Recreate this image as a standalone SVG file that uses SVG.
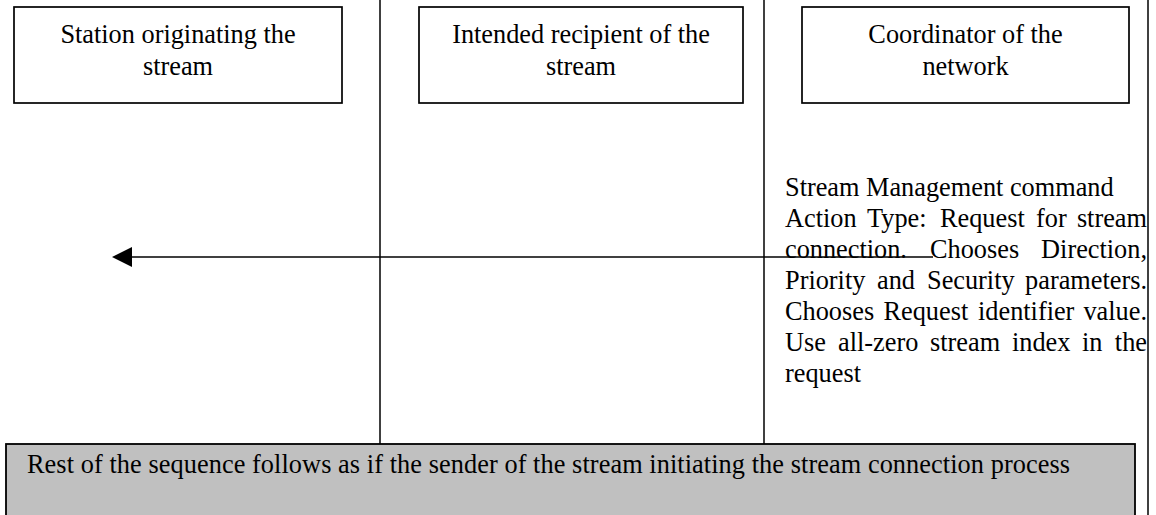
<svg xmlns="http://www.w3.org/2000/svg" width="1156" height="515" viewBox="0 0 1156 515">
<style>
text{font-family:"Liberation Serif","Times New Roman",serif;font-size:26.3px;fill:#000}
.box{fill:#fff;stroke:#000;stroke-width:1.7}
.life{stroke:#000;stroke-width:1.5;fill:none}
.c{text-anchor:middle}
.e{text-anchor:end}
</style>
<defs>
<marker id="ah" viewBox="0 0 20 20" refX="0" refY="10" markerWidth="20" markerHeight="20" markerUnits="userSpaceOnUse" orient="auto-start-reverse">
<path d="M0,0 L20,10 L0,20 Z" fill="#000"/>
</marker>
</defs>
<rect width="1156" height="515" fill="#fff"/>
<g id="lifelines">
<line class="life" x1="380" y1="0" x2="380" y2="444"/>
<line class="life" x1="764" y1="0" x2="764" y2="444"/>
<line class="life" x1="1148" y1="0" x2="1148" y2="515"/>
</g>
<g id="node-originator">
<rect class="box" x="14" y="7" width="328" height="96"/>
<text class="c" x="178" y="43">Station originating the</text>
<text class="c" x="178" y="75">stream</text>
</g>
<g id="node-recipient">
<rect class="box" x="419" y="7" width="324" height="96"/>
<text class="c" x="581" y="43">Intended recipient of the</text>
<text class="c" x="581" y="75">stream</text>
</g>
<g id="node-coordinator">
<rect class="box" x="802" y="7" width="327" height="96"/>
<text class="c" x="965.5" y="43">Coordinator of the</text>
<text class="c" x="965.5" y="75">network</text>
</g>
<g id="connectors">
<line x1="933" y1="257" x2="132" y2="257" stroke="#000" stroke-width="1.5" marker-end="url(#ah)"/>
</g>
<g id="label-request">
<text x="785" y="196">Stream Management command</text>
<text y="227"><tspan x="785">Action</tspan><tspan x="867">Type:</tspan><tspan x="940">Request</tspan><tspan x="1036">for</tspan></text>
<text class="e" x="1147" y="227">stream</text>
<text y="258"><tspan x="785">connection.</tspan><tspan x="930">Chooses</tspan></text>
<text class="e" x="1147" y="258">Direction,</text>
<text y="289"><tspan x="785">Priority</tspan><tspan x="877">and</tspan><tspan x="927">Security</tspan></text>
<text class="e" x="1147" y="289">parameters.</text>
<text y="320"><tspan x="785">Chooses</tspan><tspan x="883.5">Request</tspan><tspan x="978">identifier</tspan></text>
<text class="e" x="1147" y="320">value.</text>
<text y="351"><tspan x="785">Use</tspan><tspan x="838">all-zero</tspan><tspan x="930">stream</tspan><tspan x="1012">index</tspan><tspan x="1082">in</tspan></text>
<text class="e" x="1147" y="351">the</text>
<text x="785" y="382">request</text>
</g>
<g id="node-rest">
<rect x="6" y="444" width="1129" height="90" fill="#c0c0c0" stroke="#000" stroke-width="1.8"/>
<text x="27" y="473" textLength="1043" lengthAdjust="spacing">Rest of the sequence follows as if the sender of the stream initiating the stream connection process</text>
</g>
</svg>
